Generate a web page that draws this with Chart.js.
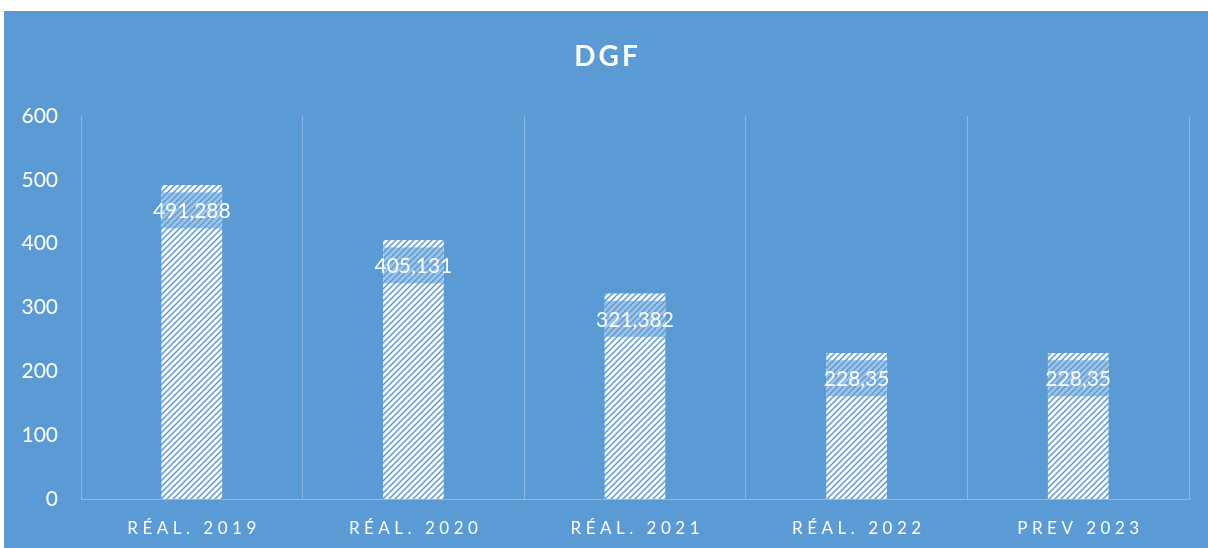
<!DOCTYPE html>
<html>
<head>
<meta charset="utf-8">
<script src="https://cdn.jsdelivr.net/npm/chart.js@4/dist/chart.umd.min.js"></script>
<style>
  html, body { margin: 0; padding: 0; background: #ffffff; }
  #wrap { position: absolute; left: 4px; top: 11px; width: 1204px; height: 537px; background: #5b9bd5; }
</style>
</head>
<body>
<div id="wrap"><canvas id="chartjs" width="1204" height="537"></canvas></div>
<script>
/*==== data ====*/
const chartTitle = 'DGF';
const categories = ['RÉAL. 2019', 'RÉAL. 2020', 'RÉAL. 2021', 'RÉAL. 2022', 'PREV 2023'];
const dgfValues = [491.288, 405.131, 321.382, 228.35, 228.35];
const dgfLabels = ['491,288', '405,131', '321,382', '228,35', '228,35'];
const yTicks = [0, 100, 200, 300, 400, 500, 600];

const bgBlue = '#5b9bd5';
const fontFamily = 'Lato, "Open Sans", sans-serif';

/*==== hatch pattern (wide upward diagonal) ====*/
function makeHatch(){
    var size = 6;
    var c = document.createElement('canvas');
    c.width = size; c.height = size;
    var g = c.getContext('2d');
    g.fillStyle = bgBlue;
    g.fillRect(0, 0, size, size);
    g.strokeStyle = '#ffffff';
    g.lineWidth = 2.8;
    g.beginPath();
    g.moveTo(-1, size + 1); g.lineTo(size + 1, -1);
    g.moveTo(-1, 1); g.lineTo(1, -1);
    g.moveTo(size - 1, size + 1); g.lineTo(size + 1, size - 1);
    g.stroke();
    return g.createPattern(c, 'repeat');
}

/*==== title, spaced out and centred on the whole box ====*/
const spacedTitle = {
    id: 'spacedTitle',
    afterDraw(chart){
        var ctx = chart.ctx;
        ctx.save();
        ctx.fillStyle = '#ffffff';
        ctx.font = 'bold 28px ' + fontFamily;
        ctx.textAlign = 'center';
        ctx.textBaseline = 'middle';
        ctx.letterSpacing = '3px';
        ctx.fillText(chartTitle, chart.width / 2 + 1.5, 46);
        ctx.restore();
    }
};

/*==== value labels with translucent box ====*/
const valueLabels = {
    id: 'valueLabels',
    afterDatasetsDraw(chart){
        var ctx = chart.ctx;
        var meta = chart.getDatasetMeta(0);
        ctx.save();
        meta.data.forEach(function(bar, i){
            var w = bar.width;
            ctx.fillStyle = 'rgba(91,155,213,0.6)';
            ctx.fillRect(bar.x - w / 2, bar.y + 7, w, 36);
            ctx.fillStyle = '#ffffff';
            ctx.font = '21px ' + fontFamily;
            ctx.textAlign = 'center';
            ctx.textBaseline = 'middle';
            ctx.fillText(dgfLabels[i], bar.x, bar.y + 26);
        });
        ctx.restore();
    }
};

/*==== category labels, spaced out ====*/
const spacedLabels = {
    id: 'spacedLabels',
    afterDraw(chart){
        var ctx = chart.ctx;
        var xs = chart.scales.x;
        ctx.save();
        ctx.fillStyle = '#ffffff';
        ctx.font = '17px ' + fontFamily;
        ctx.textAlign = 'center';
        ctx.textBaseline = 'middle';
        ctx.letterSpacing = '4.5px';
        categories.forEach(function(lab, i){
            ctx.fillText(lab, xs.getPixelForValue(i) + 2.25, xs.bottom - 19);
        });
        ctx.restore();
    }
};

var config_dgf = {
    type: 'bar',
    data: {
        labels: categories,
        datasets: [{
            label: chartTitle,
            data: dgfValues,
            backgroundColor: makeHatch(),
            borderWidth: 0,
            barThickness: 60
        }]
    },
    options: {
        responsive: false,
        animation: false,
        layout: { padding: { left: 0, right: 19, top: 105, bottom: 0 } },
        plugins: {
            legend: { display: false },
            tooltip: { enabled: false },
            title: { display: false }
        },
        scales: {
            x: {
                grid: {
                    display: true,
                    offset: true,
                    color: 'rgba(255,255,255,0.3)',
                    drawTicks: false
                },
                border: { display: true, color: 'rgba(255,255,255,0.3)' },
                ticks: { color: 'rgba(0,0,0,0)', font: { size: 17 } },
                afterFit: function(scale){ scale.height = 49; }
            },
            y: {
                min: 0,
                max: 600,
                grid: { display: false, drawTicks: false },
                border: { display: false },
                afterBuildTicks: function(scale){
                    scale.ticks = yTicks.map(function(v){ return { value: v }; });
                },
                ticks: {
                    color: '#ffffff',
                    padding: 23,
                    font: { family: fontFamily, size: 21 }
                },
                afterFit: function(scale){ scale.width = 77; }
            }
        }
    },
    plugins: [valueLabels, spacedLabels, spacedTitle]
};

var dgfChart = new Chart(document.querySelector('#chartjs'), config_dgf);
</script>
</body>
</html>
